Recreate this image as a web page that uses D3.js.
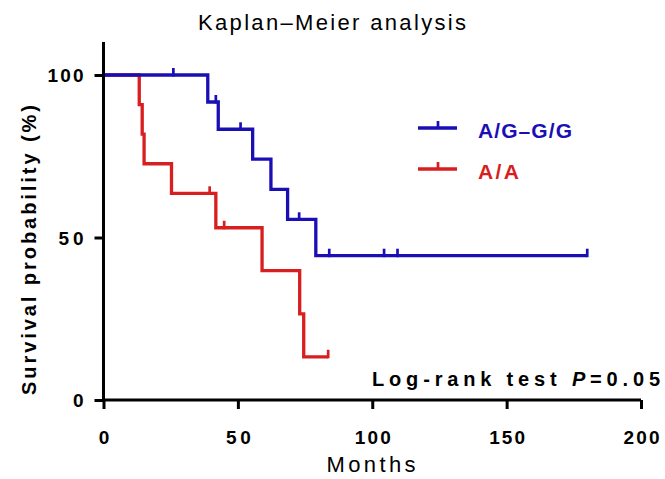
<!DOCTYPE html>
<html>
<head>
<meta charset="utf-8">
<script src="https://cdn.jsdelivr.net/npm/d3@7"></script>
<style>
	body { margin: 0; background: #fff; }
	text { font-family: "Liberation Sans", Arial, sans-serif; }
</style>
</head>
<body>
<div id="chart"></div>
<script>
// survival steps: [months, percent]
var agSteps = [[0, 100], [38.8, 91.7], [42.7, 83.3], [55.5, 74.1], [62.3, 64.8], [68.5, 55.6], [79, 44.4], [180, 44.4]];
var agCensor = [26, 41.8, 51, 72.8, 84, 104.4, 109.4, 180];

var aaSteps = [[0, 100], [13.3, 90.9], [14.4, 81.8], [15.1, 72.7], [25.3, 63.6], [41.8, 53.0], [59, 39.8], [73, 26.5], [74.5, 13.3], [83.6, 13.3]];
var aaCensor = [39.5, 44.9, 83.6];

var groups = ["A/G\u2013G/G", "A/A"];
var colors = ["#1a0fb4", "#d81e1e"];
var xTicks = [0, 50, 100, 150, 200];
var yTicks = [0, 50, 100];

var width = 665, height = 479;
var margin = {left: 103.5, right: 24, top: 42, bottom: 79};

var svg = d3.select("#chart").append("svg")
	.attr("width", width)
	.attr("height", height);

var x = d3.scaleLinear().domain([0, 200]).range([margin.left, 641]);
var y = d3.scaleLinear().domain([0, 100]).range([400, 75]);

// GraphPad spreads its letters out, so stretch the spacing to a width
function spread(sel, w)
{
	sel.attr("textLength", w).attr("lengthAdjust", "spacing");
}

// curves
var line = d3.line()
	.x(function(d) { return x(d[0]); })
	.y(function(d) { return y(d[1]); })
	.curve(d3.curveStepAfter);

// value of a step curve at time t
function valueAt(steps, t)
{
	var v = steps[0][1];
	steps.forEach(function(s) { if (s[0] <= t) v = s[1]; });
	return v;
}

var series = [
	{steps: agSteps, censor: agCensor, color: colors[0]},
	{steps: aaSteps, censor: aaCensor, color: colors[1]}
];

// red underneath blue
series.slice().reverse().forEach(function(s)
{
	var g = svg.append("g");
	g.append("path")
		.attr("d", line(s.steps))
		.attr("fill", "none")
		.attr("stroke", s.color)
		.attr("stroke-width", 3.3);
	g.selectAll("line.cens")
		.data(s.censor)
		.enter()
			.append("line")
				.attr("class", "cens")
				.attr("x1", function(d) { return x(d); })
				.attr("x2", function(d) { return x(d); })
				.attr("y1", function(d) { return y(valueAt(s.steps, d)) + 1.5; })
				.attr("y2", function(d) { return y(valueAt(s.steps, d)) - 7; })
				.attr("stroke", s.color)
				.attr("stroke-width", 2.7);
});

// axes
var xAxis = svg.append("g")
	.attr("transform", "translate(0,400)")
	.call(d3.axisBottom(x).tickValues(xTicks).tickSize(9).tickSizeOuter(0));

var yAxis = svg.append("g")
	.attr("transform", "translate(" + margin.left + ",0)")
	.call(d3.axisLeft(y).tickValues(yTicks).tickSize(9).tickSizeOuter(0));

[xAxis, yAxis].forEach(function(a)
{
	a.select(".domain").attr("stroke", "#000").attr("stroke-width", 3);
	a.selectAll(".tick line").attr("stroke", "#000").attr("stroke-width", 3);
	a.selectAll(".tick text")
		.attr("fill", "#000")
		.style("font-size", "19px")
		.style("font-weight", "bold")
		.style("font-family", "'Liberation Sans', Arial, sans-serif")
		.each(function(d)
		{
			var n = String(d).length;
			spread(d3.select(this), n == 1 ? 10 : (n == 2 ? 25 : 36));
		});
});

// y axis extends above 100
yAxis.select(".domain").attr("d", "M0,42V400");
xAxis.select(".domain").attr("d", "M" + (margin.left - 1.5) + ",0H" + x(200));
xAxis.selectAll(".tick text").attr("y", 0).attr("dy", 0).attr("transform", "translate(0,44)");
yAxis.selectAll(".tick text").attr("x", -20).attr("dy", "0.35em");

// titles
svg.append("text")
	.attr("x", 332)
	.attr("y", 30)
	.attr("text-anchor", "middle")
	.style("font-size", "22px")
	.call(spread, 268)
	.text("Kaplan\u2013Meier analysis");

svg.append("text")
	.attr("x", 371)
	.attr("y", 472)
	.attr("text-anchor", "middle")
	.style("font-size", "22px")
	.call(spread, 89)
	.text("Months");

svg.append("text")
	.attr("transform", "translate(36,250) rotate(-90)")
	.attr("text-anchor", "middle")
	.style("font-size", "20px")
	.style("font-weight", "bold")
	.call(spread, 290)
	.text("Survival probability (%)");

// legend
var legend = svg.append("g");
var legendWidths = [94, 41];
groups.forEach(function(name, i)
{
	var ly = 128 + i * 41;
	legend.append("line")
		.attr("x1", 418).attr("x2", 457)
		.attr("y1", ly).attr("y2", ly)
		.attr("stroke", colors[i]).attr("stroke-width", 3.3);
	legend.append("line")
		.attr("x1", 438).attr("x2", 438)
		.attr("y1", ly).attr("y2", ly - 7)
		.attr("stroke", colors[i]).attr("stroke-width", 2.7);
	legend.append("text")
		.attr("x", 478)
		.attr("y", ly + 10)
		.attr("fill", colors[i])
		.style("font-size", "21px")
		.style("font-weight", "bold")
		.call(spread, legendWidths[i])
		.text(name);
});

// log-rank annotation
var lr = svg.append("text")
	.attr("x", 372)
	.attr("y", 386)
	.style("font-size", "20px")
	.style("font-weight", "bold")
	.call(spread, 288);
lr.append("tspan").text("Log-rank test ");
lr.append("tspan").style("font-style", "italic").text("P");
lr.append("tspan").text("=0.05");
</script>
</body>
</html>
